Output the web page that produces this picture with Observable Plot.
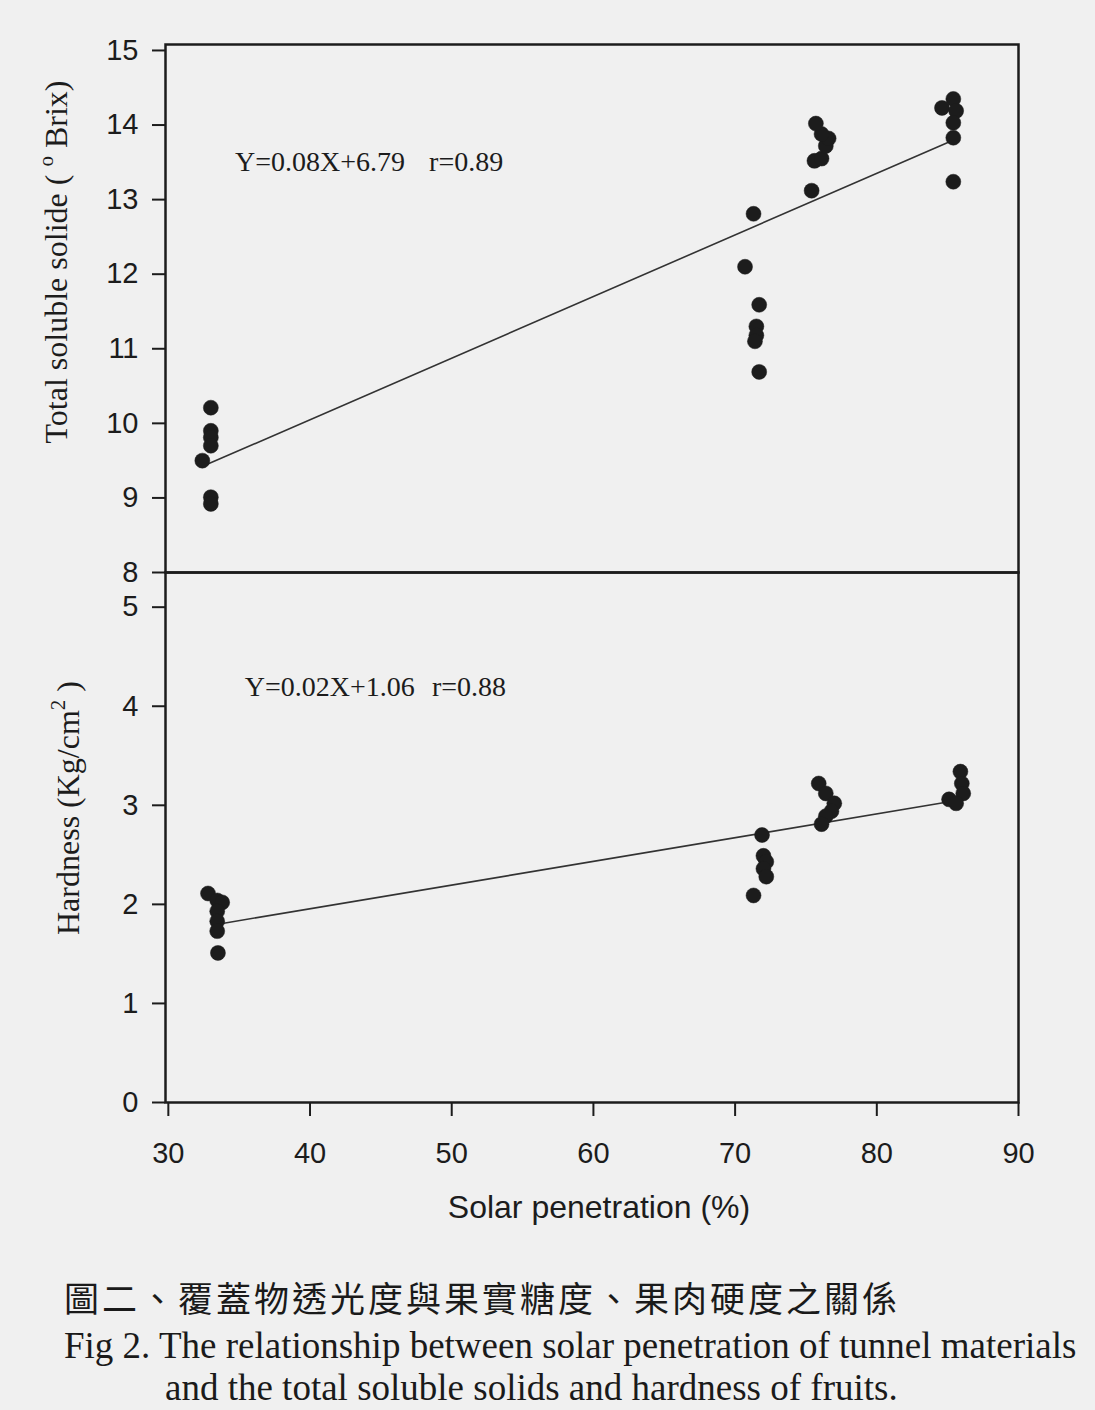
<!DOCTYPE html>
<html>
<head>
<meta charset="utf-8">
<script src="https://cdn.jsdelivr.net/npm/d3@7"></script>
<script src="https://cdn.jsdelivr.net/npm/@observablehq/plot@0.6"></script>
<style>
  html, body { margin: 0; padding: 0; background: #f0f0f0; }
  #root { position: relative; width: 1095px; height: 1410px; background: #f0f0f0; overflow: hidden; }
  #top, #bottom { position: absolute; left: 0; }
  #top { top: 0; }
  #bottom { top: 562px; }
  .cap { position: absolute; color: #1a1a1a; white-space: nowrap; line-height: 1; }
  #capZh { left: 64px; top: 1279px; font-family: "Noto Sans CJK TC", "Noto Sans CJK SC", serif; font-size: 35px; letter-spacing: 3px; font-weight: 400; }
  #capEn1 { left: 64px; top: 1327px; font-family: "Liberation Serif", "DejaVu Serif", serif; font-size: 37px; }
  #capEn2 { left: 165px; top: 1369px; font-family: "Liberation Serif", "DejaVu Serif", serif; font-size: 37px; }
</style>
</head>
<body>
<div id="root">
  <div id="top"></div>
  <div id="bottom"></div>
  <div class="cap" id="capZh">圖二、覆蓋物透光度與果實糖度、果肉硬度之關係</div>
  <div class="cap" id="capEn1">Fig 2. The relationship between solar penetration of tunnel materials</div>
  <div class="cap" id="capEn2">and the total soluble solids and hardness of fruits.</div>
</div>
<script>
// ---- Data ----
const xTicks = [30, 40, 50, 60, 70, 80, 90];
const tssTicks = [8, 9, 10, 11, 12, 13, 14, 15];
const hardTicks = [0, 1, 2, 3, 4, 5];

// Total soluble solids (°Brix) vs solar penetration (%)
const tssX = [33.0, 33.0, 33.0, 33.0, 32.4, 33.0, 33.0,
              71.3, 70.7, 71.7, 71.5, 71.5, 71.4, 71.7,
              75.4, 75.6, 76.1, 76.4, 76.6, 76.1, 75.7,
              84.6, 85.4, 85.6, 85.4, 85.4, 85.4];
const tssY = [10.21, 9.90, 9.81, 9.70, 9.50, 9.01, 8.92,
              12.81, 12.10, 11.59, 11.30, 11.18, 11.10, 10.69,
              13.12, 13.52, 13.55, 13.72, 13.82, 13.88, 14.02,
              14.23, 14.35, 14.19, 14.03, 13.83, 13.24];
const tssLineX = [32.5, 85.3];
const tssLineY = [9.43, 13.79];
const tssEquation = "Y=0.08X+6.79";
const tssR = "r=0.89";

// Hardness (Kg/cm²) vs solar penetration (%)
const hardX = [32.8, 33.45, 33.8, 33.45, 33.45, 33.45, 33.5,
               71.9, 72.0, 72.2, 72.0, 72.2, 71.3,
               75.9, 76.4, 77.0, 76.8, 76.4, 76.1,
               85.9, 86.0, 86.1, 85.1, 85.6];
const hardY = [2.11, 2.04, 2.02, 1.93, 1.83, 1.73, 1.51,
               2.70, 2.49, 2.43, 2.36, 2.28, 2.09,
               3.22, 3.12, 3.02, 2.94, 2.89, 2.81,
               3.34, 3.22, 3.12, 3.06, 3.02];
const hardLineX = [33.5, 84.9];
const hardLineY = [1.80, 3.03];
const hardEquation = "Y=0.02X+1.06";
const hardR = "r=0.88";

// ---- Build ----
const tssPts = tssX.map((x, i) => ({x, y: tssY[i]}));
const tssLine = tssLineX.map((x, i) => ({x, y: tssLineY[i]}));
const hardPts = hardX.map((x, i) => ({x, y: hardY[i]}));
const hardLine = hardLineX.map((x, i) => ({x, y: hardLineY[i]}));

const ink = "#1c1c1c";
const intFmt = d => String(d);
const common = {
  width: 1095,
  marginLeft: 165,
  marginRight: 77,
  style: {background: "transparent", fontFamily: "'Liberation Sans', Arial, sans-serif", color: ink, overflow: "visible"}
};
const eqStyle = {textAnchor: "start", lineAnchor: "middle", fontSize: 28, fontFamily: "'Liberation Serif', serif", fill: ink};

const topPlot = Plot.plot({
  ...common,
  height: 580,
  marginTop: 44,
  marginBottom: 8,
  x: {domain: [29.8, 90], axis: null},
  y: {domain: [8, 15.08]},
  marks: [
    Plot.axisY({ticks: tssTicks, tickSize: 13, tickPadding: 14, fontSize: 29, strokeWidth: 2, label: null, tickFormat: intFmt}),
    Plot.frame({stroke: ink, strokeWidth: 2.5}),
    Plot.line(tssLine, {x: "x", y: "y", stroke: "#333", strokeWidth: 1.6}),
    Plot.dot(tssPts, {x: "x", y: "y", r: 7.5, fill: ink, stroke: ink, strokeWidth: 0.5}),
    Plot.text([tssEquation], {x: 34.7, y: 13.5, text: d => d, ...eqStyle}),
    Plot.text([tssR], {x: 48.4, y: 13.5, text: d => d, ...eqStyle})
  ]
});

const bottomPlot = Plot.plot({
  ...common,
  height: 680,
  marginTop: 10,
  marginBottom: 140,
  x: {domain: [29.8, 90]},
  y: {domain: [0, 5.35]},
  marks: [
    Plot.axisY({ticks: hardTicks, tickSize: 13, tickPadding: 14, fontSize: 29, strokeWidth: 2, label: null, tickFormat: intFmt}),
    Plot.axisX({ticks: xTicks, tickSize: 14, tickPadding: 26, fontSize: 29, strokeWidth: 2, label: null, tickFormat: intFmt}),
    Plot.frame({stroke: ink, strokeWidth: 2.5}),
    Plot.line(hardLine, {x: "x", y: "y", stroke: "#333", strokeWidth: 1.6}),
    Plot.dot(hardPts, {x: "x", y: "y", r: 7.5, fill: ink, stroke: ink, strokeWidth: 0.5}),
    Plot.text([hardEquation], {x: 35.4, y: 4.19, text: d => d, ...eqStyle}),
    Plot.text([hardR], {x: 48.6, y: 4.19, text: d => d, ...eqStyle})
  ]
});

document.getElementById("top").appendChild(topPlot);
document.getElementById("bottom").appendChild(bottomPlot);

// Axis titles (rotated, with superscripts)
function yTitle(svg, cx, cy, parts) {
  const t = d3.select(svg).append("text")
    .attr("transform", `translate(${cx},${cy}) rotate(-90)`)
    .attr("text-anchor", "middle")
    .attr("dominant-baseline", "middle")
    .attr("font-family", "'Liberation Serif', 'Times New Roman', serif")
    .attr("font-size", 32)
    .attr("fill", ink);
  parts.forEach(p => {
    const s = t.append("tspan").text(p.t);
    if (p.sup) s.attr("font-size", 21).attr("baseline-shift", "super");
  });
}
yTitle(topPlot, 60, 262, [{t: "Total soluble solide ( "}, {t: "o", sup: true}, {t: " Brix)"}]);
yTitle(bottomPlot, 72, 808 - 562, [{t: "Hardness (Kg/cm"}, {t: "2", sup: true}, {t: " )"}]);

d3.select(bottomPlot).append("text")
  .attr("x", 599).attr("y", 1210 - 562)
  .attr("text-anchor", "middle")
  .attr("dominant-baseline", "middle")
  .attr("font-family", "'Liberation Sans', Arial, sans-serif")
  .attr("font-size", 32)
  .attr("fill", ink)
  .text("Solar penetration (%)");
</script>
</body>
</html>
